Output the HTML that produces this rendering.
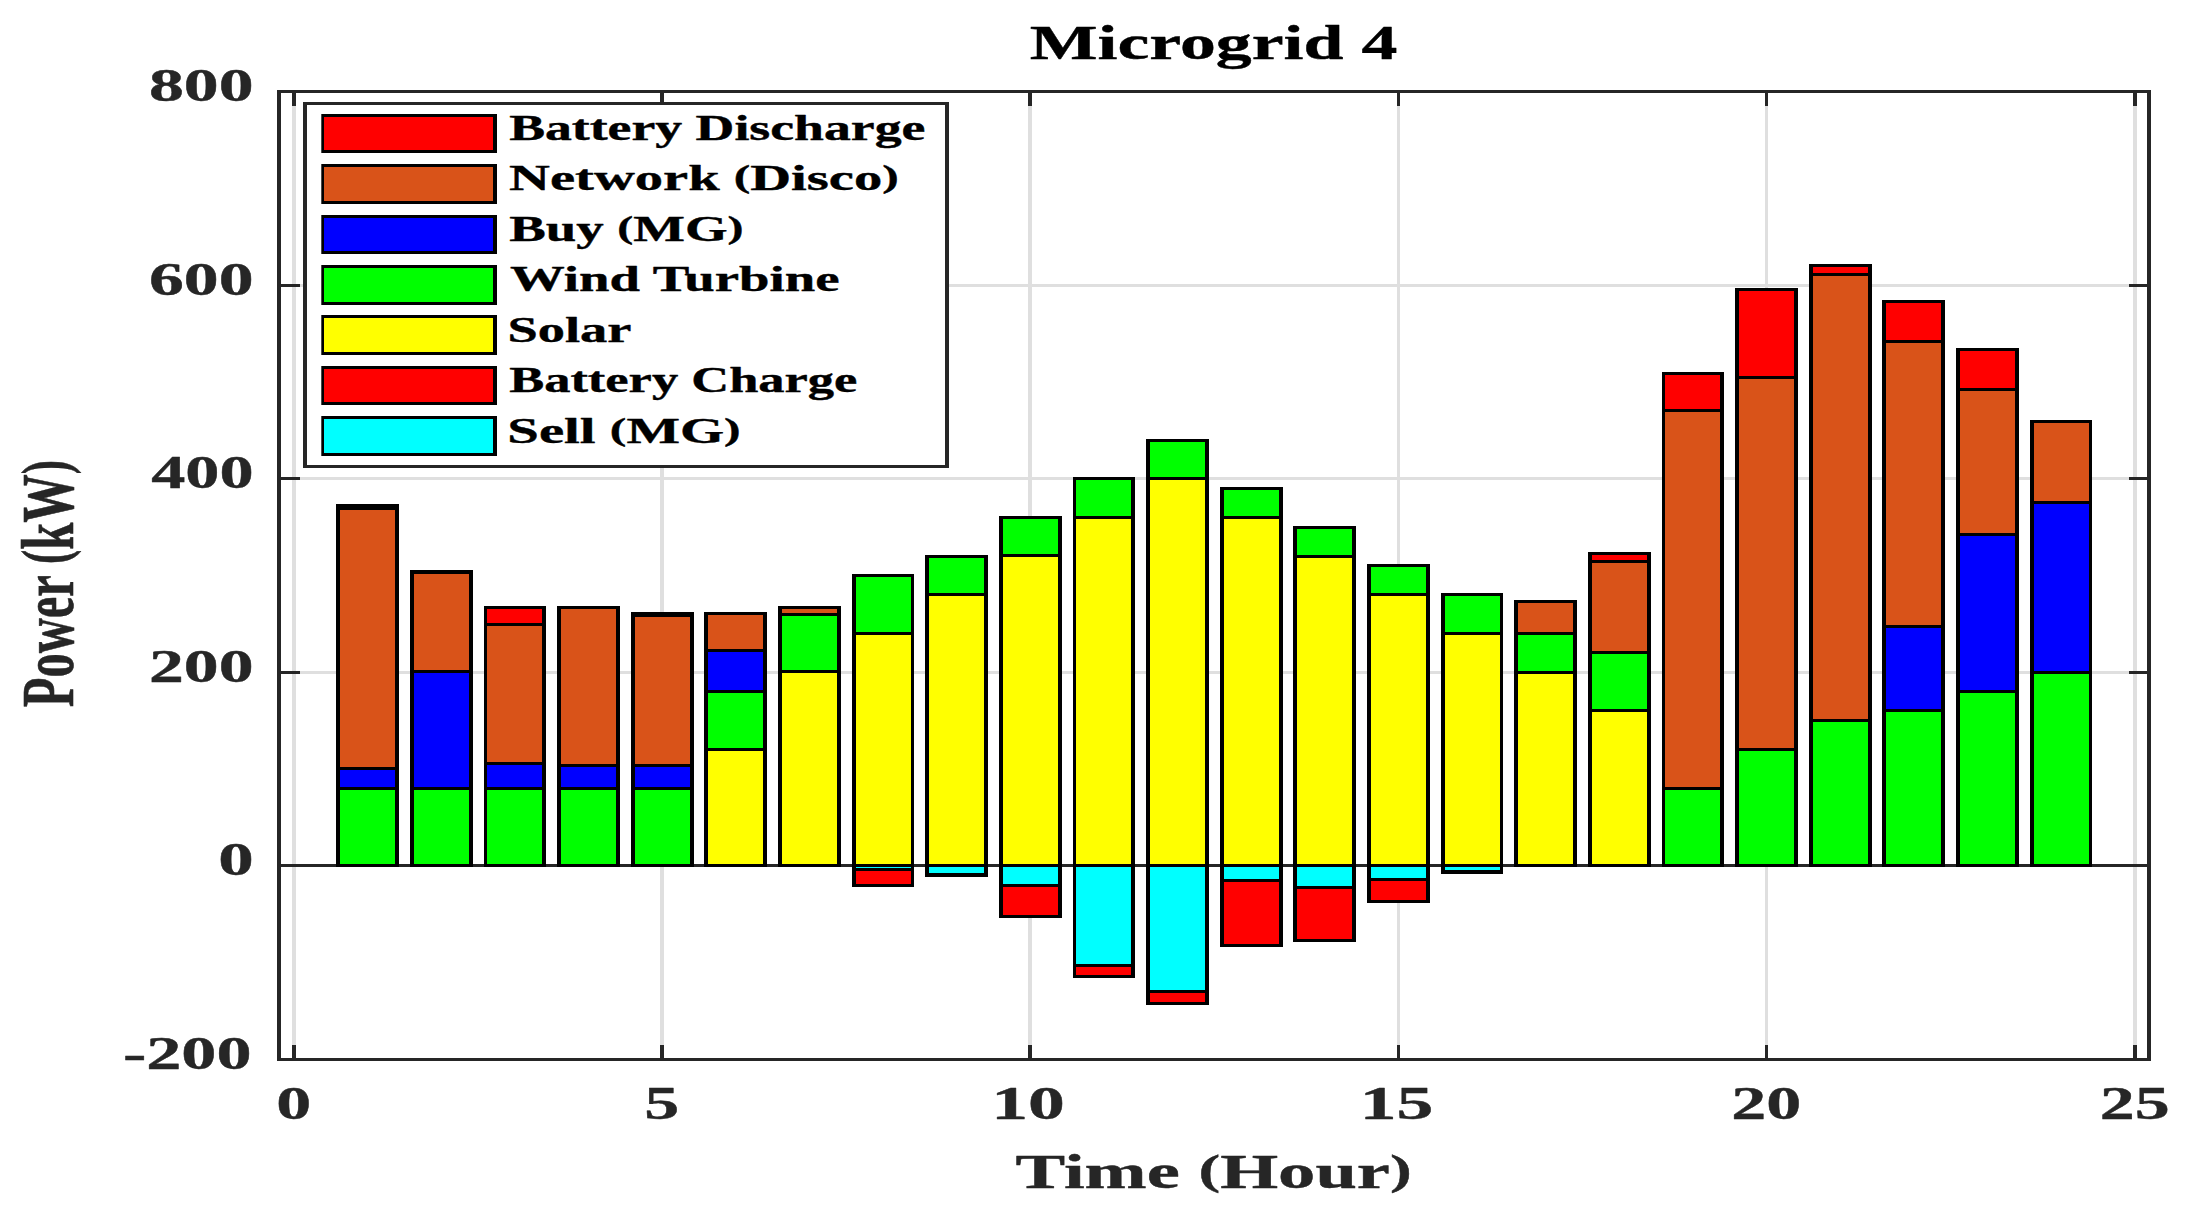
<!DOCTYPE html>
<html lang="en">
<head>
<meta charset="utf-8">
<title>Microgrid 4</title>
<style>html,body{margin:0;padding:0;background:#ffffff;}body{width:2204px;height:1208px;overflow:hidden;}svg text{white-space:pre;}svg text,svg tspan{vector-effect:non-scaling-stroke;}</style>
</head>
<body>
<svg width="2204" height="1208" viewBox="0 0 2204 1208" style="display:block">
<rect x="0" y="0" width="2204" height="1208" fill="#ffffff"/>
<g>
<rect x="292" y="90" width="4" height="971" fill="#dfdfdf"/>
<rect x="660" y="90" width="4" height="971" fill="#dfdfdf"/>
<rect x="1028" y="90" width="4" height="971" fill="#dfdfdf"/>
<rect x="1397" y="90" width="3" height="971" fill="#dfdfdf"/>
<rect x="1765" y="90" width="3" height="971" fill="#dfdfdf"/>
<rect x="2133" y="90" width="4" height="971" fill="#dfdfdf"/>
<rect x="277" y="284" width="1874" height="3" fill="#dfdfdf"/>
<rect x="277" y="477" width="1874" height="3" fill="#dfdfdf"/>
<rect x="277" y="671" width="1874" height="3" fill="#dfdfdf"/>
</g>
<rect x="277" y="864" width="1874" height="3" fill="#262626"/>
<g>
<rect x="336" y="504" width="63" height="363" fill="#000000"/>
<rect x="340" y="790" width="55" height="74" fill="#00ff00"/>
<rect x="340" y="770" width="55" height="17" fill="#0000ff"/>
<rect x="340" y="510" width="55" height="257" fill="#d95319"/>
<rect x="410" y="570" width="63" height="297" fill="#000000"/>
<rect x="414" y="790" width="55" height="74" fill="#00ff00"/>
<rect x="414" y="673" width="55" height="114" fill="#0000ff"/>
<rect x="414" y="574" width="55" height="96" fill="#d95319"/>
<rect x="484" y="606" width="62" height="261" fill="#000000"/>
<rect x="487" y="790" width="55" height="74" fill="#00ff00"/>
<rect x="487" y="765" width="55" height="22" fill="#0000ff"/>
<rect x="487" y="626" width="55" height="136" fill="#d95319"/>
<rect x="487" y="609" width="55" height="14" fill="#ff0000"/>
<rect x="557" y="606" width="63" height="261" fill="#000000"/>
<rect x="561" y="790" width="55" height="74" fill="#00ff00"/>
<rect x="561" y="767" width="55" height="20" fill="#0000ff"/>
<rect x="561" y="609" width="55" height="155" fill="#d95319"/>
<rect x="631" y="612" width="63" height="255" fill="#000000"/>
<rect x="635" y="790" width="55" height="74" fill="#00ff00"/>
<rect x="635" y="767" width="55" height="20" fill="#0000ff"/>
<rect x="635" y="617" width="55" height="147" fill="#d95319"/>
<rect x="704" y="612" width="63" height="255" fill="#000000"/>
<rect x="708" y="751" width="55" height="113" fill="#ffff00"/>
<rect x="708" y="693" width="55" height="55" fill="#00ff00"/>
<rect x="708" y="652" width="55" height="38" fill="#0000ff"/>
<rect x="708" y="615" width="55" height="34" fill="#d95319"/>
<rect x="778" y="606" width="63" height="261" fill="#000000"/>
<rect x="782" y="673" width="55" height="191" fill="#ffff00"/>
<rect x="782" y="616" width="55" height="54" fill="#00ff00"/>
<rect x="782" y="609" width="55" height="4" fill="#d95319"/>
<rect x="852" y="574" width="62" height="313" fill="#000000"/>
<rect x="856" y="635" width="55" height="229" fill="#ffff00"/>
<rect x="856" y="577" width="55" height="55" fill="#00ff00"/>
<rect x="856" y="867" width="55" height="1" fill="#00ffff"/>
<rect x="856" y="871" width="55" height="13" fill="#ff0000"/>
<rect x="925" y="555" width="63" height="322" fill="#000000"/>
<rect x="929" y="596" width="55" height="268" fill="#ffff00"/>
<rect x="929" y="558" width="55" height="35" fill="#00ff00"/>
<rect x="929" y="867" width="55" height="6" fill="#00ffff"/>
<rect x="999" y="516" width="63" height="402" fill="#000000"/>
<rect x="1003" y="557" width="55" height="307" fill="#ffff00"/>
<rect x="1003" y="519" width="55" height="35" fill="#00ff00"/>
<rect x="1003" y="867" width="55" height="17" fill="#00ffff"/>
<rect x="1003" y="887" width="55" height="28" fill="#ff0000"/>
<rect x="1073" y="477" width="62" height="501" fill="#000000"/>
<rect x="1076" y="519" width="55" height="345" fill="#ffff00"/>
<rect x="1076" y="480" width="55" height="36" fill="#00ff00"/>
<rect x="1076" y="867" width="55" height="97" fill="#00ffff"/>
<rect x="1076" y="967" width="55" height="8" fill="#ff0000"/>
<rect x="1146" y="439" width="63" height="566" fill="#000000"/>
<rect x="1150" y="480" width="55" height="384" fill="#ffff00"/>
<rect x="1150" y="442" width="55" height="35" fill="#00ff00"/>
<rect x="1150" y="867" width="55" height="123" fill="#00ffff"/>
<rect x="1150" y="993" width="55" height="9" fill="#ff0000"/>
<rect x="1220" y="487" width="63" height="460" fill="#000000"/>
<rect x="1224" y="519" width="55" height="345" fill="#ffff00"/>
<rect x="1224" y="490" width="55" height="26" fill="#00ff00"/>
<rect x="1224" y="867" width="55" height="12" fill="#00ffff"/>
<rect x="1224" y="882" width="55" height="62" fill="#ff0000"/>
<rect x="1293" y="526" width="63" height="416" fill="#000000"/>
<rect x="1297" y="558" width="55" height="306" fill="#ffff00"/>
<rect x="1297" y="529" width="55" height="26" fill="#00ff00"/>
<rect x="1297" y="867" width="55" height="19" fill="#00ffff"/>
<rect x="1297" y="889" width="55" height="50" fill="#ff0000"/>
<rect x="1367" y="564" width="63" height="339" fill="#000000"/>
<rect x="1371" y="596" width="55" height="268" fill="#ffff00"/>
<rect x="1371" y="567" width="55" height="26" fill="#00ff00"/>
<rect x="1371" y="867" width="55" height="11" fill="#00ffff"/>
<rect x="1371" y="881" width="55" height="19" fill="#ff0000"/>
<rect x="1441" y="593" width="62" height="281" fill="#000000"/>
<rect x="1445" y="635" width="55" height="229" fill="#ffff00"/>
<rect x="1445" y="596" width="55" height="36" fill="#00ff00"/>
<rect x="1445" y="867" width="55" height="3" fill="#00ffff"/>
<rect x="1514" y="600" width="63" height="267" fill="#000000"/>
<rect x="1518" y="674" width="55" height="190" fill="#ffff00"/>
<rect x="1518" y="635" width="55" height="36" fill="#00ff00"/>
<rect x="1518" y="603" width="55" height="29" fill="#d95319"/>
<rect x="1588" y="552" width="63" height="315" fill="#000000"/>
<rect x="1592" y="712" width="55" height="152" fill="#ffff00"/>
<rect x="1592" y="654" width="55" height="55" fill="#00ff00"/>
<rect x="1592" y="563" width="55" height="88" fill="#d95319"/>
<rect x="1592" y="555" width="55" height="5" fill="#ff0000"/>
<rect x="1662" y="372" width="62" height="495" fill="#000000"/>
<rect x="1665" y="790" width="55" height="74" fill="#00ff00"/>
<rect x="1665" y="412" width="55" height="375" fill="#d95319"/>
<rect x="1665" y="375" width="55" height="34" fill="#ff0000"/>
<rect x="1735" y="288" width="63" height="579" fill="#000000"/>
<rect x="1739" y="751" width="55" height="113" fill="#00ff00"/>
<rect x="1739" y="379" width="55" height="369" fill="#d95319"/>
<rect x="1739" y="291" width="55" height="85" fill="#ff0000"/>
<rect x="1809" y="264" width="63" height="603" fill="#000000"/>
<rect x="1813" y="722" width="55" height="142" fill="#00ff00"/>
<rect x="1813" y="276" width="55" height="443" fill="#d95319"/>
<rect x="1813" y="267" width="55" height="6" fill="#ff0000"/>
<rect x="1882" y="300" width="63" height="567" fill="#000000"/>
<rect x="1886" y="712" width="55" height="152" fill="#00ff00"/>
<rect x="1886" y="628" width="55" height="81" fill="#0000ff"/>
<rect x="1886" y="343" width="55" height="282" fill="#d95319"/>
<rect x="1886" y="303" width="55" height="37" fill="#ff0000"/>
<rect x="1956" y="348" width="63" height="519" fill="#000000"/>
<rect x="1960" y="693" width="55" height="171" fill="#00ff00"/>
<rect x="1960" y="536" width="55" height="154" fill="#0000ff"/>
<rect x="1960" y="391" width="55" height="142" fill="#d95319"/>
<rect x="1960" y="351" width="55" height="37" fill="#ff0000"/>
<rect x="2030" y="420" width="62" height="447" fill="#000000"/>
<rect x="2034" y="674" width="55" height="190" fill="#00ff00"/>
<rect x="2034" y="504" width="55" height="167" fill="#0000ff"/>
<rect x="2034" y="423" width="55" height="78" fill="#d95319"/>
</g>
<g>
<rect x="277" y="90" width="1874" height="3" fill="#262626"/>
<rect x="277" y="1058" width="1874" height="3" fill="#262626"/>
<rect x="277" y="90" width="4" height="971" fill="#262626"/>
<rect x="2147" y="90" width="4" height="971" fill="#262626"/>
<rect x="292" y="90" width="4" height="16" fill="#262626"/>
<rect x="292" y="1045" width="4" height="16" fill="#262626"/>
<rect x="660" y="90" width="4" height="16" fill="#262626"/>
<rect x="660" y="1045" width="4" height="16" fill="#262626"/>
<rect x="1028" y="90" width="4" height="16" fill="#262626"/>
<rect x="1028" y="1045" width="4" height="16" fill="#262626"/>
<rect x="1397" y="90" width="3" height="16" fill="#262626"/>
<rect x="1397" y="1045" width="3" height="16" fill="#262626"/>
<rect x="1765" y="90" width="3" height="16" fill="#262626"/>
<rect x="1765" y="1045" width="3" height="16" fill="#262626"/>
<rect x="2133" y="90" width="4" height="16" fill="#262626"/>
<rect x="2133" y="1045" width="4" height="16" fill="#262626"/>
<rect x="277" y="284" width="23" height="3" fill="#262626"/>
<rect x="2129" y="284" width="22" height="3" fill="#262626"/>
<rect x="277" y="477" width="23" height="3" fill="#262626"/>
<rect x="2129" y="477" width="22" height="3" fill="#262626"/>
<rect x="277" y="671" width="23" height="3" fill="#262626"/>
<rect x="2129" y="671" width="22" height="3" fill="#262626"/>
<rect x="277" y="864" width="23" height="3" fill="#262626"/>
<rect x="2129" y="864" width="22" height="3" fill="#262626"/>
</g>
<g>
<rect x="303" y="102" width="646" height="366" fill="#262626"/>
<rect x="307" y="105" width="638" height="360" fill="#ffffff"/>
<rect x="321.3" y="114" width="175.7" height="39" fill="#000000"/>
<rect x="324" y="117" width="169" height="33" fill="#ff0000"/>
<rect x="321.3" y="164" width="175.7" height="40" fill="#000000"/>
<rect x="324" y="167" width="169" height="34" fill="#d95319"/>
<rect x="321.3" y="215" width="175.7" height="39" fill="#000000"/>
<rect x="324" y="218" width="169" height="33" fill="#0000ff"/>
<rect x="321.3" y="265" width="175.7" height="40" fill="#000000"/>
<rect x="324" y="268" width="169" height="34" fill="#00ff00"/>
<rect x="321.3" y="315" width="175.7" height="40" fill="#000000"/>
<rect x="324" y="318" width="169" height="34" fill="#ffff00"/>
<rect x="321.3" y="366" width="175.7" height="39" fill="#000000"/>
<rect x="324" y="369" width="169" height="33" fill="#ff0000"/>
<rect x="321.3" y="416" width="175.7" height="40" fill="#000000"/>
<rect x="324" y="419" width="169" height="34" fill="#00ffff"/>
</g>
<g font-family="'Liberation Serif', 'Times New Roman', serif" font-weight="bold" stroke-width="0.5" stroke-linejoin="round" vector-effect="non-scaling-stroke" style="vector-effect:non-scaling-stroke">
<text transform="translate(509.16,139.80) scale(1.4927,1.0000)" font-size="36" fill="#000000" stroke="#000000">Battery Discharge</text>
<text transform="translate(509.12,190.25) scale(1.5721,1.0000)" font-size="36" fill="#000000" stroke="#000000"><tspan>Network </tspan><tspan font-size="31.50" dy="-2.92">(</tspan><tspan dy="2.92">Disco</tspan><tspan font-size="31.50" dy="-2.92">)</tspan></text>
<text transform="translate(509.14,240.70) scale(1.5227,1.0000)" font-size="36" fill="#000000" stroke="#000000"><tspan>Buy </tspan><tspan font-size="31.50" dy="-2.92">(</tspan><tspan dy="2.92">MG</tspan><tspan font-size="31.50" dy="-2.92">)</tspan></text>
<text transform="translate(510.00,291.15) scale(1.5222,1.0000)" font-size="36" fill="#000000" stroke="#000000">Wind Turbine</text>
<text transform="translate(507.45,341.60) scale(1.5121,1.0000)" font-size="36" fill="#000000" stroke="#000000">Solar</text>
<text transform="translate(509.18,392.05) scale(1.4577,1.0000)" font-size="36" fill="#000000" stroke="#000000">Battery Charge</text>
<text transform="translate(507.34,442.50) scale(1.5771,1.0000)" font-size="36" fill="#000000" stroke="#000000"><tspan>Sell </tspan><tspan font-size="31.50" dy="-2.92">(</tspan><tspan dy="2.92">MG</tspan><tspan font-size="31.50" dy="-2.92">)</tspan></text>
<text transform="translate(1029.68,58.60) scale(1.4966,1.0000)" font-size="48" fill="#000000" stroke="#000000">Microgrid 4</text>
<text transform="translate(1015.54,1188.20) scale(1.5529,1.0000)" font-size="48" fill="#262626" stroke="#262626"><tspan>Time </tspan><tspan font-size="42.00" dy="-3.89">(</tspan><tspan dy="3.89">Hour</tspan><tspan font-size="42.00" dy="-3.89">)</tspan></text>
<text transform="translate(149.02,101.47) scale(1.4831,1.0000)" font-size="47" fill="#262626" stroke="#262626">800</text>
<text transform="translate(149.02,294.97) scale(1.4831,1.0000)" font-size="47" fill="#262626" stroke="#262626">600</text>
<text transform="translate(151.20,488.47) scale(1.4515,1.0000)" font-size="47" fill="#262626" stroke="#262626">400</text>
<text transform="translate(149.02,681.97) scale(1.4831,1.0000)" font-size="47" fill="#262626" stroke="#262626">200</text>
<text transform="translate(218.19,875.47) scale(1.5076,1.0000)" font-size="47" fill="#262626" stroke="#262626">0</text>
<text transform="translate(122.91,1068.97) scale(1.4937,1.0000)" font-size="47" fill="#262626" stroke="#262626">-200</text>
<text transform="translate(276.21,1119.20) scale(1.4881,1.0000)" font-size="47" fill="#262626" stroke="#262626">0</text>
<text transform="translate(644.21,1119.20) scale(1.4881,1.0000)" font-size="47" fill="#262626" stroke="#262626">5</text>
<text transform="translate(991.15,1119.20) scale(1.5672,1.0000)" font-size="47" fill="#262626" stroke="#262626">10</text>
<text transform="translate(1359.65,1119.20) scale(1.5672,1.0000)" font-size="47" fill="#262626" stroke="#262626">15</text>
<text transform="translate(1731.21,1119.20) scale(1.4888,1.0000)" font-size="47" fill="#262626" stroke="#262626">20</text>
<text transform="translate(2099.71,1119.20) scale(1.4888,1.0000)" font-size="47" fill="#262626" stroke="#262626">25</text>
<text transform="translate(72.60,707.26) rotate(-90) scale(1.0111,1.5434)" font-size="48" fill="#262626" stroke="#262626"><tspan>Power </tspan><tspan font-size="42.00" dy="-3.89">(</tspan><tspan dy="3.89">kW</tspan><tspan font-size="42.00" dy="-3.89">)</tspan></text>
</g>
</svg>
</body>
</html>
